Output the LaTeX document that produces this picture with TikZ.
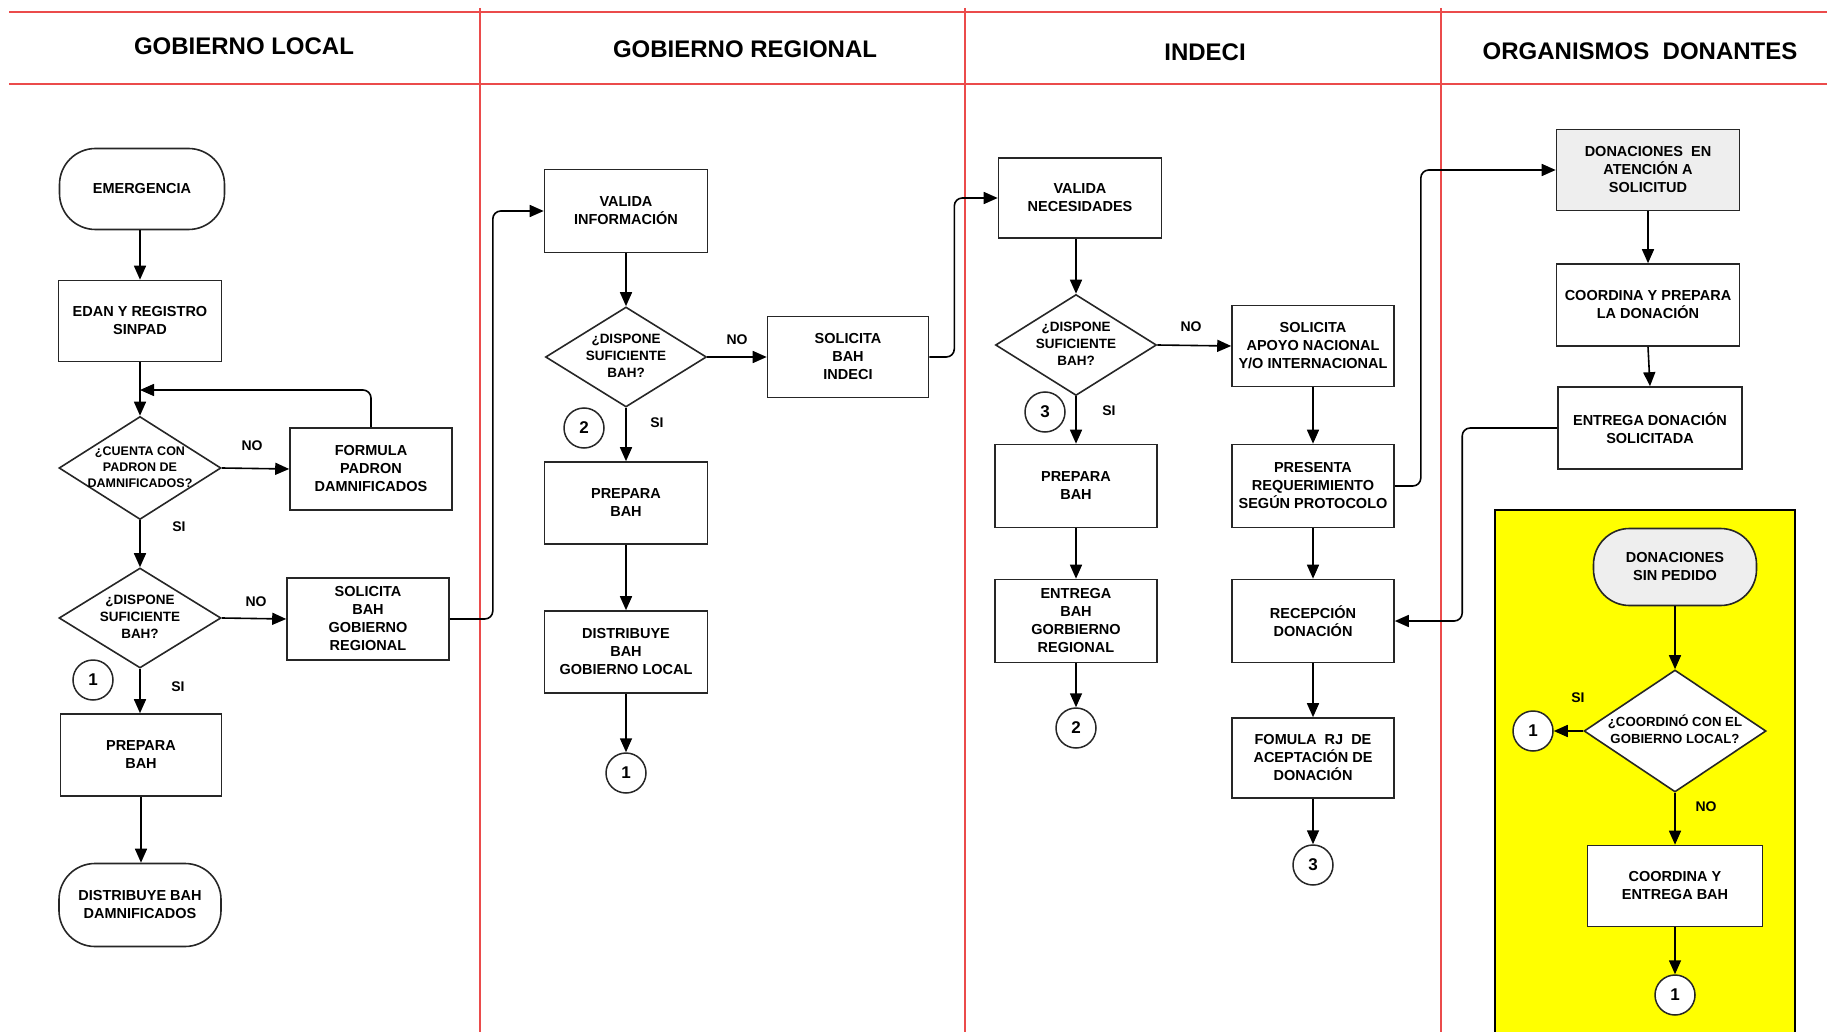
\documentclass[tikz,border=0pt]{standalone}
\usepackage{fontspec}
\setmainfont{Liberation Sans}
\usetikzlibrary{arrows.meta,shapes.geometric}
\definecolor{lanered}{RGB}{235,75,75}
\definecolor{boxgray}{RGB}{238,238,238}
\definecolor{donyellow}{RGB}{255,255,0}
\newcommand{\dtext}[1]{\makebox[0pt]{\smash{\raisebox{-0.25em}{\begin{tabular}{@{}c@{}}#1\end{tabular}}}}}
\begin{document}
\begin{tikzpicture}[x=1pt,y=-1pt,
 pbox/.style={draw=black!85, line width=1.6pt, fill=white, rectangle, minimum width=162pt, minimum height=82pt, align=center, inner sep=1pt, font=\fontsize{14.5}{18}\selectfont\bfseries},
 tbox/.style={pbox, rounded corners=36pt},
 dia/.style={draw=black!85, line width=1.6pt, fill=white, diamond, inner sep=0pt, minimum width=162pt, minimum height=101pt, font=\fontsize{13.5}{17}\selectfont\bfseries},
 conn/.style={line width=1.6pt, -{Triangle[length=14pt,width=12pt]}},
 con/.style={circle, draw=black!85, line width=1.5pt, fill=white, minimum size=40pt, inner sep=0pt, font=\fontsize{17}{17}\selectfont\bfseries},
 lbl/.style={font=\fontsize{14}{14}\selectfont\bfseries, inner sep=0pt},
 hdr/.style={font=\fontsize{24}{24}\selectfont\bfseries, inner sep=0pt},
 lane/.style={draw=lanered, line width=1.5pt}]
\useasboundingbox (0,0) rectangle (1836,1032);
% lanes
\draw[lane] (9,12) -- (1827,12);
\draw[lane] (9,84) -- (1827,84);
\draw[lane] (480,8) -- (480,1032);
\draw[lane] (965,8) -- (965,1032);
\draw[lane] (1441,8) -- (1441,1032);
\node[hdr] (h1) at (244,46) {GOBIERNO LOCAL};
\node[hdr] (h2) at (745,49) {GOBIERNO REGIONAL};
\node[hdr] (h3) at (1205,52) {INDECI};
\node[hdr] (h4) at (1640,51) {ORGANISMOS\ \ DONANTES};
% yellow area
\fill[donyellow] (1495,510) rectangle (1795,1032);
\draw[line width=1.2pt] (1495,1032) -- (1495,510) -- (1795,510) -- (1795,1032);

% Lane 1
\node[tbox, minimum width=165pt, minimum height=81pt] (emer) at (142,189) {EMERGENCIA};
\node[pbox, minimum width=163pt, minimum height=81pt] (edan) at (140,321) {EDAN Y REGISTRO\\SINPAD};
\node[dia, minimum height=103pt, font=\fontsize{12.5}{16}\selectfont\bfseries] (d1) at (140,468) {\dtext{¿CUENTA CON\\PADRON DE\\DAMNIFICADOS?}};
\node[pbox] (form) at (371,469) {FORMULA\\PADRON\\DAMNIFICADOS};
\node[dia, minimum height=100pt] (d2) at (140,618) {\dtext{¿DISPONE\\SUFICIENTE\\BAH?}};
\node[pbox] (solgr) at (368,619) {SOLICITA\\BAH\\GOBIERNO\\REGIONAL};
\node[con] (c1a) at (93,680) {1};
\node[pbox, minimum width=161pt] (prep1) at (141,755) {PREPARA\\BAH};
\node[tbox, minimum height=83pt] (dist1) at (140,905) {DISTRIBUYE BAH\\DAMNIFICADOS};
\coordinate (m1) at (140,390);

\draw[conn] (emer.south -| edan.north) -- (edan.north);
\draw[conn] (edan) -- (d1);
\draw[conn, rounded corners=8pt] (form.north) |- (m1);
\draw[conn] (d1.east) -- (form.west);
\draw[conn] (d1.south) -- (d2.north);
\draw[conn] (d2.east) -- (solgr.west);
\draw[conn] (d2.south) -- (prep1.north -| d2.south);
\draw[conn] (prep1.south) -- (dist1.north -| prep1.south);
\node[lbl] (no1) at (252,446) {NO};
\node[lbl] (si1) at (179,527) {SI};
\node[lbl] (no2) at (256,602) {NO};
\node[lbl] (si2) at (178,687) {SI};

% Lane 2
\node[pbox, minimum width=163pt, minimum height=83pt] (valinf) at (626,211) {VALIDA\\INFORMACIÓN};
\node[dia, minimum width=161pt, minimum height=100pt] (d3) at (626,357) {\dtext{¿DISPONE\\SUFICIENTE\\BAH?}};
\node[pbox, minimum width=161pt, minimum height=81pt] (solind) at (848,357) {SOLICITA\\BAH\\INDECI};
\node[con] (c2a) at (584,428) {2};
\node[pbox, minimum width=163pt] (prep2) at (626,503) {PREPARA\\BAH};
\node[pbox, minimum width=163pt] (distgl) at (626,652) {DISTRIBUYE\\BAH\\GOBIERNO LOCAL};
\node[con] (c1b) at (626,773) {1};
\draw[conn, rounded corners=8pt] (solgr.east) -- ++(43,0) |- (valinf.west);
\draw[conn] (valinf) -- (d3);
\draw[conn] (d3.east) -- (solind.west);
\draw[conn] (d3.south) -- (prep2.north);
\draw[conn] (prep2) -- (distgl);
\draw[conn] (distgl) -- (c1b);
\node[lbl] (no3) at (737,340) {NO};
\node[lbl] (si3) at (657,423) {SI};

% Lane 3
\node[pbox, minimum width=163pt, minimum height=80pt] (valnec) at (1080,198) {VALIDA\\NECESIDADES};
\node[dia, minimum width=161pt, minimum height=101pt] (d4) at (1076,345) {\dtext{¿DISPONE\\SUFICIENTE\\BAH?}};
\node[pbox, minimum height=81pt] (solapo) at (1313,346) {SOLICITA\\APOYO NACIONAL\\Y/O INTERNACIONAL};
\node[con] (c3a) at (1045,412) {3};
\node[pbox, minimum height=83pt] (prep3) at (1076,486) {PREPARA\\BAH};
\node[pbox, minimum height=83pt] (pres) at (1313,486) {PRESENTA\\REQUERIMIENTO\\SEGÚN PROTOCOLO};
\node[pbox, minimum height=83pt] (entgr) at (1076,621) {ENTREGA\\BAH\\GORBIERNO\\REGIONAL};
\node[con] (c2b) at (1076,728) {2};
\node[pbox, minimum height=83pt] (recep) at (1313,621) {RECEPCIÓN\\DONACIÓN};
\node[pbox, minimum height=80pt] (fomula) at (1313,758) {FOMULA\ \ RJ\ \ DE\\ACEPTACIÓN DE\\DONACIÓN};
\node[con] (c3b) at (1313,865) {3};
\draw[conn, rounded corners=8pt] (solind.east) -- ++(25,0) |- (valnec.west);
\draw[conn] (d4.north |- valnec.south) -- (d4.north);
\draw[conn] (d4.east) -- (solapo.west);
\draw[conn] (d4.south) -- (prep3.north);
\draw[conn] (prep3) -- (entgr);
\draw[conn] (entgr) -- (c2b);
\draw[conn] (solapo) -- (pres);
\draw[conn] (pres) -- (recep);
\draw[conn] (recep) -- (fomula);
\draw[conn] (fomula) -- (c3b);
\node[lbl] (no4) at (1191,327) {NO};
\node[lbl] (si4) at (1109,411) {SI};

% Lane 4
\node[pbox, fill=boxgray, minimum width=183pt, minimum height=81pt] (donat) at (1648,170) {DONACIONES\ \ EN\\ATENCIÓN A\\SOLICITUD};
\node[pbox, minimum width=183pt] (coordprep) at (1648,305) {COORDINA Y PREPARA\\LA DONACIÓN};
\node[pbox, minimum width=184pt] (entdon) at (1650,428) {ENTREGA DONACIÓN\\SOLICITADA};
\draw[conn, rounded corners=8pt] (pres.east) -- ++(26,0) |- (donat.west);
\draw[conn] (donat) -- (coordprep);
\draw[conn] (coordprep.south) -- (entdon.north);
\draw[conn, rounded corners=8pt] (entdon.west) -- ++(-95,0) |- (recep.east);

\node[tbox, fill=boxgray, minimum width=163pt, minimum height=77pt] (dsp) at (1675,567) {DONACIONES\\SIN PEDIDO};
\node[dia, minimum width=182pt, minimum height=122pt, font=\fontsize{13.2}{17}\selectfont\bfseries] (d5) at (1675,731) {\dtext{¿COORDINÓ CON EL\\GOBIERNO LOCAL?}};
\node[con] (c1c) at (1533,731) {1};
\node[pbox, minimum width=175pt, minimum height=81pt] (coordent) at (1675,886) {COORDINA Y\\ENTREGA BAH};
\node[con] (c1d) at (1675,995) {1};
\draw[conn] (dsp) -- (d5);
\draw[conn] (d5.west) -- (c1c.east);
\draw[conn] (d5.south) -- (coordent.north);
\draw[conn] (coordent) -- (c1d);
\node[lbl] (si5) at (1578,698) {SI};
\node[lbl] (no5) at (1706,807) {NO};
\end{tikzpicture}
\end{document}
